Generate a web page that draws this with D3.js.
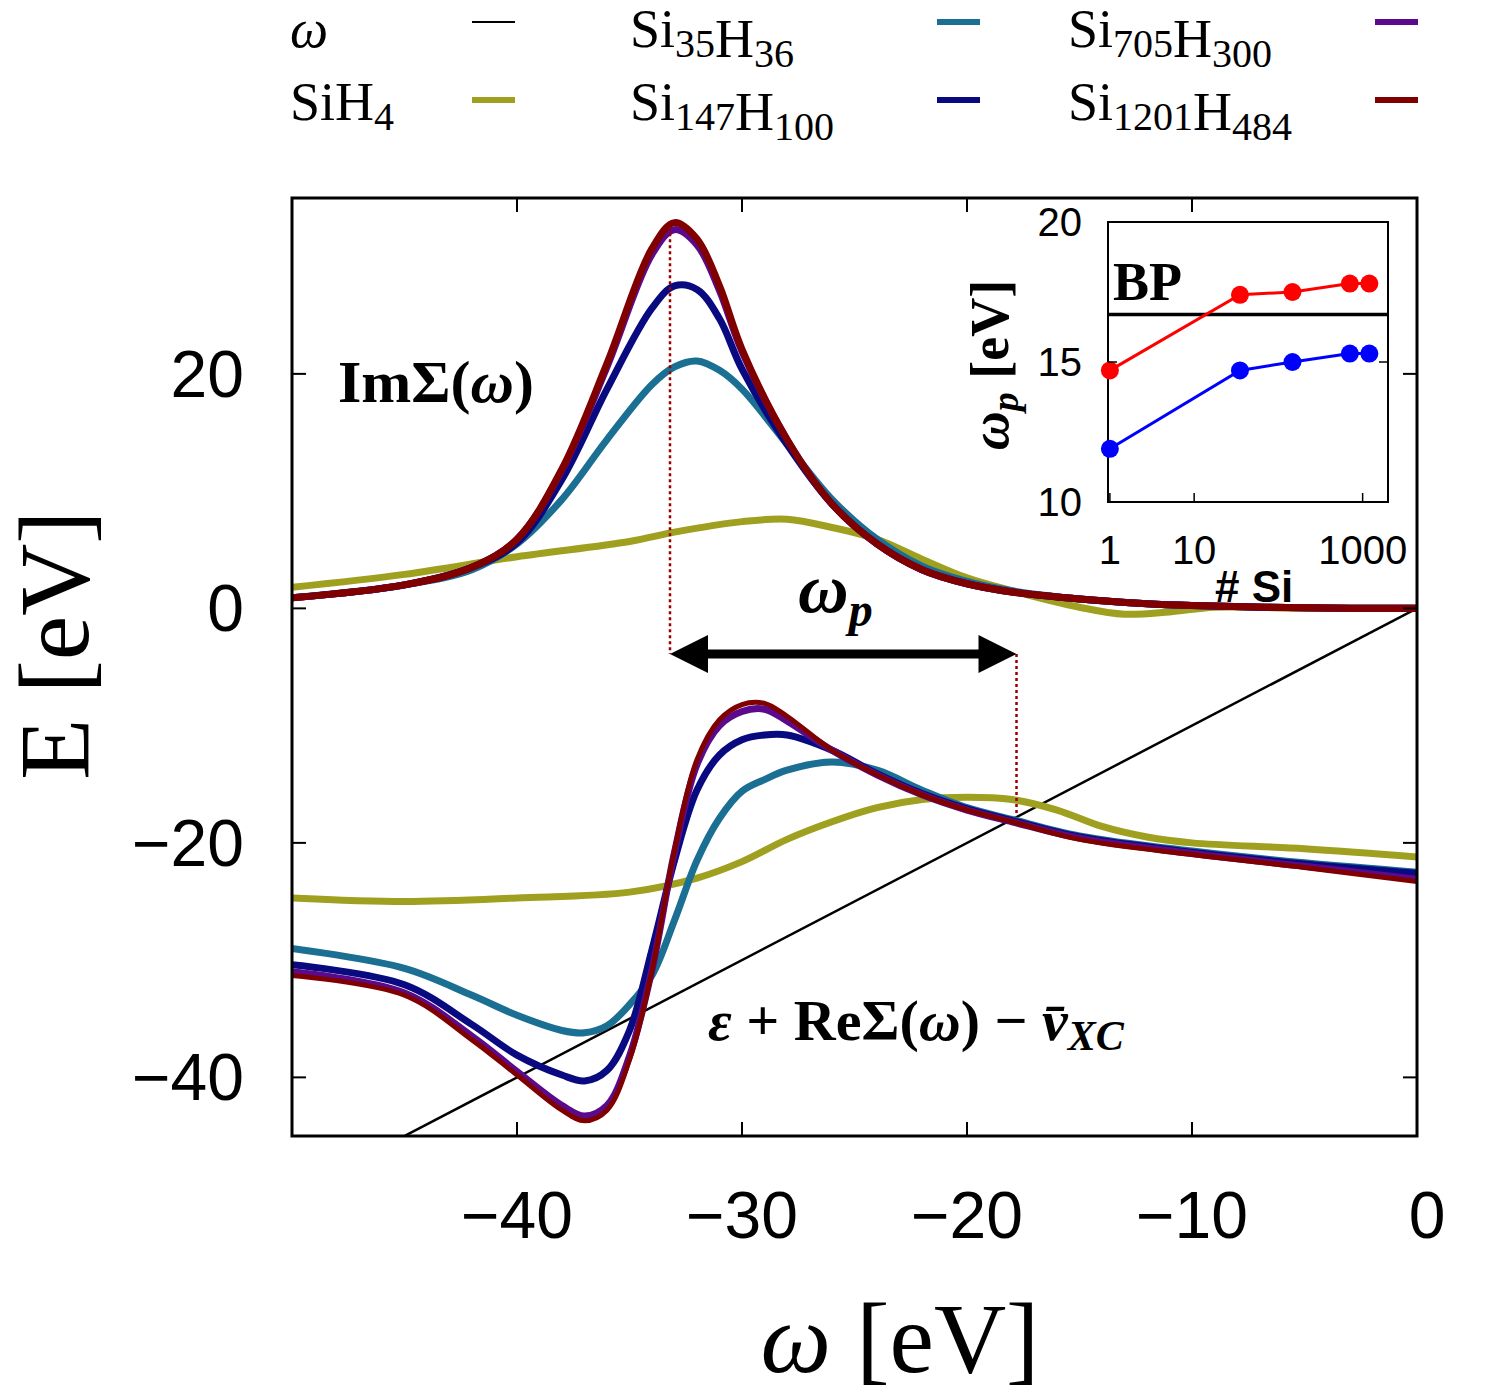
<!DOCTYPE html>
<html><head><meta charset="utf-8">
<script src="https://cdn.jsdelivr.net/npm/d3@7"></script>
<style>body{margin:0;background:#fff}</style></head>
<body><svg id="c" width="1490" height="1399"></svg>
<script>
const xTicks=[-40,-30,-20,-10,0];
const yTicks=[-40,-20,0,20];
const imX=[-50,-45,-42,-40,-38,-36,-34,-33,-32,-31,-30,-28,-26,-24,-22,-20,-18,-15,-12,-10,-5,0];
const im1201=[0.9,2,3.5,5.9,11.9,20.9,30.7,32.9,31.5,27.5,22.1,14.4,8.9,5.5,3.3,2.1,1.4,0.8,0.4,0.25,0.05,0];
const im705=[0.9,2,3.5,5.9,11.8,20.6,30.2,32.3,31.0,27.1,21.9,14.4,8.9,5.5,3.3,2.1,1.4,0.8,0.4,0.25,0.05,0];
const im147=[0.9,2,3.5,5.6,11,18.7,25.6,27.5,27.2,24.7,20.4,14,8.9,5.5,3.3,2.1,1.4,0.8,0.4,0.25,0.05,0];
const im35=[0.9,2,3.3,5.5,9.3,14.4,19.1,20.6,21.1,20.3,18.7,14,9.3,5.9,3.6,2.3,1.5,0.8,0.4,0.25,0.05,0];
const shX=[-50,-45,-40,-35,-33,-30,-28,-26,-24,-22,-20,-18,-15,-13,-11,-9,-5,0];
const imSiH4=[1.8,2.9,4.4,5.7,6.5,7.4,7.6,6.9,5.9,4.2,2.6,1.5,0.1,-0.5,-0.3,0.1,0,0];
const reX=[-50,-45,-42,-40,-38,-37,-36,-35,-34,-33,-32,-31,-30,-29,-28,-26,-24,-22,-20,-18,-15,-10,-5,0];
const re1201=[-31.3,-33,-36.8,-39.8,-42.8,-43.7,-42.8,-38.5,-30.9,-20.6,-12.9,-9.5,-8.2,-8.1,-9.2,-12.1,-14.2,-15.9,-17.2,-18.2,-19.7,-21,-22.1,-23.3];
const re705=[-31.0,-32.8,-36.5,-39.5,-42.4,-43.3,-42.4,-38.2,-30.8,-20.8,-13.3,-10,-8.8,-8.6,-9.6,-12.1,-14.2,-15.9,-17.2,-18.2,-19.6,-20.9,-22,-23.1];
const re147=[-30.4,-32.1,-35.5,-38.1,-39.8,-40.3,-39.4,-36,-29.1,-21.5,-15.5,-12.5,-11.2,-10.8,-10.8,-12.1,-14.1,-15.8,-17.1,-18.1,-19.5,-20.8,-21.8,-22.6];
const re35=[-29,-30.7,-33,-34.7,-36,-36.2,-35.6,-33.8,-31.3,-26.6,-21.5,-17.9,-15.6,-14.6,-13.8,-13.1,-13.8,-15.5,-17,-18,-19.4,-20.7,-21.7,-22.5];
const reSiH4X=[-50,-45,-40,-35,-32,-30,-28,-26,-24,-22,-20,-18,-16,-14,-12,-10,-5,0];
const reSiH4=[-24.7,-25,-24.7,-24.2,-23,-21.6,-19.7,-18.2,-17,-16.3,-16.1,-16.3,-17.2,-18.6,-19.5,-20,-20.5,-21.2];
const nSi=[1,35,147,705,1201];
const wpRed=[14.7,17.4,17.5,17.8,17.8];
const wpBlue=[11.9,14.7,15.0,15.3,15.3];
const bp=16.7;
const cols={w:"#000",sih4:"#a0a020",s35:"#1a6f92",s147:"#0a0a80",s705:"#5b0a8e",s1201:"#800000"};

const svg=d3.select("#c");
const L=292,R=1417,T=198,B=1136;
const x=d3.scaleLinear().domain([-50,0]).range([L,R]);
const y=d3.scaleLinear().domain([-45,35]).range([B,T]);
const sans="Liberation Sans, Arial, sans-serif", serif="Liberation Serif, DejaVu Serif, serif";
svg.append("clipPath").attr("id","cp").append("rect").attr("x",L).attr("y",T).attr("width",R-L).attr("height",B-T);
const g=svg.append("g").attr("clip-path","url(#cp)");
const line=d3.line().curve(d3.curveCatmullRom.alpha(0.5));
function draw(xs,ys,c,w){g.append("path").attr("d",line(xs.map((v,i)=>[x(v),y(ys[i])]))).attr("fill","none").attr("stroke",c).attr("stroke-width",w).attr("stroke-linejoin","round");}
g.append("line").attr("x1",x(-50)).attr("y1",y(-50)).attr("x2",x(0)).attr("y2",y(0)).attr("stroke","#000").attr("stroke-width",2.5);
draw(shX,imSiH4,cols.sih4,7);draw(reSiH4X,reSiH4,cols.sih4,7);
draw(imX,im35,cols.s35,7);draw(reX,re35,cols.s35,7);
draw(imX,im147,cols.s147,7);draw(reX,re147,cols.s147,7);
draw(imX,im705,cols.s705,7);draw(reX,re705,cols.s705,7);
draw(imX,im1201,cols.s1201,7);draw(reX,re1201,cols.s1201,5);
const a1=-33.2,a2=-17.8,ay=-3.9;
g.append("line").attr("x1",x(a1)).attr("x2",x(a1)).attr("y1",y(32.5)).attr("y2",y(ay)).attr("stroke","#900").attr("stroke-width",2.5).attr("stroke-dasharray","3,3");
g.append("line").attr("x1",x(a2)).attr("x2",x(a2)).attr("y1",y(ay)).attr("y2",y(-17.7)).attr("stroke","#900").attr("stroke-width",2.5).attr("stroke-dasharray","3,3");
g.append("line").attr("x1",x(a1)+30).attr("x2",x(a2)-30).attr("y1",y(ay)).attr("y2",y(ay)).attr("stroke","#000").attr("stroke-width",9);
[[a1,1],[a2,-1]].forEach(([v,d])=>{const px=x(v),py=y(ay);g.append("path").attr("d",`M${px},${py}L${px+d*38},${py-19}L${px+d*38},${py+19}Z`).attr("fill","#000");});
svg.append("rect").attr("x",L).attr("y",T).attr("width",R-L).attr("height",B-T).attr("fill","none").attr("stroke","#000").attr("stroke-width",3);
xTicks.forEach(t=>{svg.append("line").attr("x1",x(t)).attr("x2",x(t)).attr("y1",B).attr("y2",B-14).attr("stroke","#000").attr("stroke-width",2);
 svg.append("line").attr("x1",x(t)).attr("x2",x(t)).attr("y1",T).attr("y2",T+14).attr("stroke","#000").attr("stroke-width",2);
 svg.append("text").attr("x",x(t)+(t==0?10:0)).attr("y",1238).attr("text-anchor","middle").attr("font-family",sans).attr("font-size",66).text(t<0?"\u2212"+(-t):t);});
yTicks.forEach(t=>{svg.append("line").attr("x1",L).attr("x2",L+14).attr("y1",y(t)).attr("y2",y(t)).attr("stroke","#000").attr("stroke-width",2);
 svg.append("line").attr("x1",R).attr("x2",R-14).attr("y1",y(t)).attr("y2",y(t)).attr("stroke","#000").attr("stroke-width",2);
 svg.append("text").attr("x",244).attr("y",y(t)+23).attr("text-anchor","end").attr("font-family",sans).attr("font-size",66).text(t<0?"\u2212"+(-t):t);});
svg.append("text").attr("transform","translate(88,645) rotate(-90)").attr("text-anchor","middle").attr("font-family",serif).attr("font-size",100).text("E [eV]");
svg.append("text").attr("x",900).attr("y",1372).attr("text-anchor","middle").attr("font-family",serif).attr("font-size",100).html('<tspan font-style="italic">ω</tspan> [eV]');
svg.append("text").attr("x",338).attr("y",402).attr("font-family",serif).attr("font-weight","bold").attr("font-size",60).html('ImΣ(<tspan font-style="italic">ω</tspan>)');
svg.append("text").attr("x",798).attr("y",612).attr("font-family",serif).attr("font-weight","bold").attr("font-style","italic").attr("font-size",70).html('ω<tspan font-size="48" dy="14">p</tspan>');
svg.append("text").attr("x",708).attr("y",1040).attr("font-family",serif).attr("font-weight","bold").attr("font-size",58).html('<tspan font-style="italic">ε</tspan> + ReΣ(<tspan font-style="italic">ω</tspan>) − <tspan font-style="italic">v̄</tspan><tspan font-style="italic" font-size="42" dy="10">XC</tspan>');
function legItem(html,c,tx,ty,ly,lx,w){svg.append("text").attr("x",tx).attr("y",ty).attr("font-family",serif).attr("font-size",54).html(html);
 svg.append("line").attr("x1",lx).attr("x2",lx+43).attr("y1",ly).attr("y2",ly).attr("stroke",c).attr("stroke-width",w);}
const sub=s=>`<tspan font-size="40" dy="10">${s}</tspan><tspan dy="-10"></tspan>`;
legItem('<tspan font-style="italic">ω</tspan>',cols.w,290,47,22,472,2);
legItem("SiH"+sub("4"),cols.sih4,290,120,100,472,6);
legItem("Si"+sub("35")+"H"+sub("36"),cols.s35,630,47,22,937,6);
legItem("Si"+sub("147")+"H"+sub("100"),cols.s147,630,120,100,937,6);
legItem("Si"+sub("705")+"H"+sub("300"),cols.s705,1068,47,22,1375,6);
legItem("Si"+sub("1201")+"H"+sub("484"),cols.s1201,1068,120,100,1375,6);
const iL=1108,iR=1388,iT=222,iB=502;
const ix=d3.scaleLog().domain([0.95,2000]).range([iL,iR]);
const iy=d3.scaleLinear().domain([10,20]).range([iB,iT]);
svg.append("rect").attr("x",iL).attr("y",iT).attr("width",iR-iL).attr("height",iB-iT).attr("fill","#fff").attr("stroke","#000").attr("stroke-width",2);
svg.append("line").attr("x1",iL).attr("x2",iR).attr("y1",iy(bp)).attr("y2",iy(bp)).attr("stroke","#000").attr("stroke-width",3.5);
[[wpRed,"#f00"],[wpBlue,"#00f"]].forEach(([d,c])=>{svg.append("path").attr("d",d3.line()(nSi.map((n,i)=>[ix(n),iy(d[i])]))).attr("fill","none").attr("stroke",c).attr("stroke-width",3);
 nSi.forEach((n,i)=>svg.append("circle").attr("cx",ix(n)).attr("cy",iy(d[i])).attr("r",9).attr("fill",c));});
[10,15,20].forEach(t=>{svg.append("line").attr("x1",iL).attr("x2",iL+9).attr("y1",iy(t)).attr("y2",iy(t)).attr("stroke","#000").attr("stroke-width",1.5);
 svg.append("line").attr("x1",iR).attr("x2",iR-9).attr("y1",iy(t)).attr("y2",iy(t)).attr("stroke","#000").attr("stroke-width",1.5);
 svg.append("text").attr("x",1082).attr("y",iy(t)+14).attr("text-anchor","end").attr("font-family",sans).attr("font-size",40).text(t);});
[[1,"1"],[10,"10"],[1000,"1000"]].forEach(([t,s])=>{svg.append("line").attr("x1",ix(t)).attr("x2",ix(t)).attr("y1",iB).attr("y2",iB-9).attr("stroke","#000").attr("stroke-width",1.5);
 svg.append("text").attr("x",ix(t)).attr("y",564).attr("text-anchor","middle").attr("font-family",sans).attr("font-size",40).text(s);});
svg.append("text").attr("x",1113).attr("y",300).attr("font-family",serif).attr("font-weight","bold").attr("font-size",54).text("BP");
svg.append("text").attr("x",1215).attr("y",602).attr("font-family",sans).attr("font-weight","bold").attr("font-size",44).text("# Si");
svg.append("text").attr("transform","translate(1008,365) rotate(-90)").attr("text-anchor","middle").attr("font-family",serif).attr("font-weight","bold").attr("font-size",54).html('<tspan font-style="italic">ω</tspan><tspan font-style="italic" font-size="38" dy="10">p</tspan><tspan dy="-10"> [eV]</tspan>');
</script></body></html>
